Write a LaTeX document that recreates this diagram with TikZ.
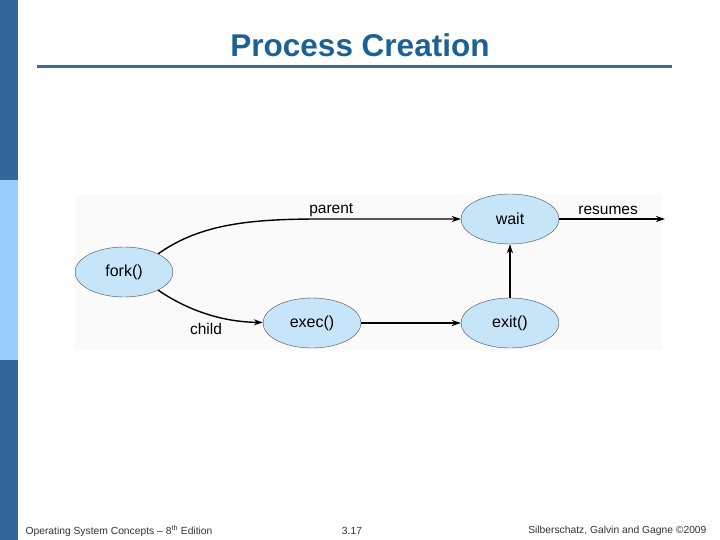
\documentclass[tikz,border=0pt]{standalone}
\usepackage{fontspec}
\setmainfont{Liberation Sans}
\usetikzlibrary{shapes.geometric, arrows.meta}

\definecolor{barblue}{RGB}{51,102,153}
\definecolor{barlight}{RGB}{153,204,255}
\definecolor{titleblue}{RGB}{27,97,147}
\definecolor{ruleblue}{RGB}{61,106,150}
\definecolor{procfill}{RGB}{199,229,248}

\begin{document}
\begin{tikzpicture}[>={Stealth[length=9pt, width=6pt]}, x=1pt, y=-1pt,
    proc/.style={ellipse, draw=black!70, fill=procfill, minimum width=98pt,
        minimum height=50pt, inner sep=0pt, font=\fontsize{16}{19}\selectfont},
    lbl/.style={font=\fontsize{15.5}{18}\selectfont},
    foot/.style={font=\fontsize{10.3}{12}\selectfont, text=black!80}]
    \useasboundingbox (0,0) rectangle (720,540);

    % side bar and title
    \fill[barblue] (0,0) rectangle (18,180);
    \fill[barlight] (0,180) rectangle (18,360);
    \fill[barblue] (0,360) rectangle (18,540);
    \node[font=\fontsize{31.5}{36}\bfseries, text=titleblue] (title) at (360,45) {Process Creation};
    \draw[ruleblue, line width=3pt] (37,67) -- (672,67);

    % diagram
    \fill[black!2] (75,195) rectangle (662,350);
    \node[proc] (fork) at (124,272) {fork()};
    \node[proc] (exec) at (312,323) {exec()};
    \node[proc] (exit) at (510,323) {exit()};
    \node[proc] (wait) at (510,219) {wait};
    \coordinate (out) at (665,219);

    \draw[->, line width=1.4pt] (fork.28) .. controls (200,224) and (250,219) .. (320,219)
        -- node[lbl, pos=0.08, above, yshift=-2pt] {parent} (wait);
    \draw[->, line width=1.4pt] (fork.-28) .. controls (190,312) and (225,322) .. (exec)
        node[lbl, pos=0.62, below left, xshift=5pt, yshift=-2pt] {child};
    \draw[->, line width=1.4pt] (exec) -- (exit);
    \draw[->, line width=1.4pt] (exit) -- (wait);
    \draw[->, line width=1.4pt] (wait) -- (out) node[lbl, midway, above, xshift=-4pt] {resumes};

    % footer
    \node[foot, anchor=west] (edition) at (22,531) {Operating System Concepts -- 8\textsuperscript{th} Edition};
    \node[foot] (page) at (352,531) {3.17};
    \node[foot, anchor=east] (authors) at (710,531) {Silberschatz, Galvin and Gagne \textcopyright2009};
\end{tikzpicture}
\end{document}
